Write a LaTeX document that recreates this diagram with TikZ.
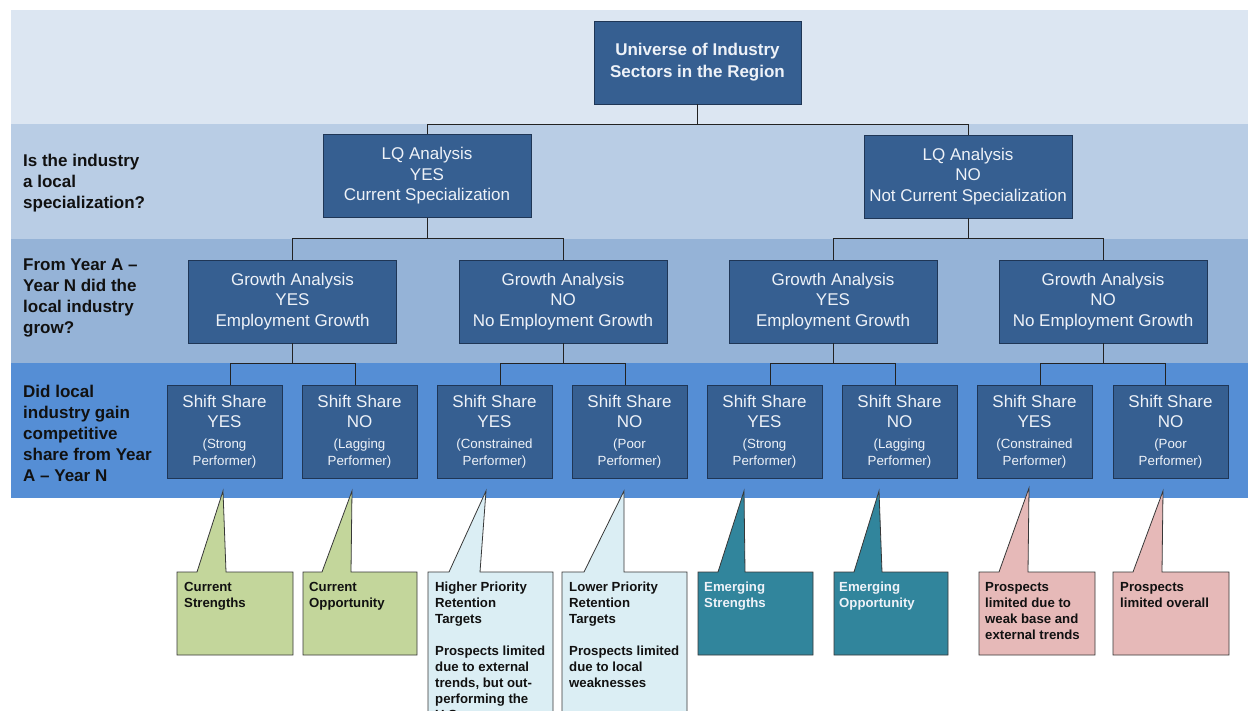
\documentclass[tikz,border=0pt]{standalone}
\usepackage{fontspec}
\setmainfont{Liberation Sans}
\definecolor{bandA}{HTML}{DCE6F2}
\definecolor{bandB}{HTML}{B9CDE5}
\definecolor{bandC}{HTML}{95B3D7}
\definecolor{bandD}{HTML}{558ED5}
\definecolor{boxfill}{HTML}{365F91}
\definecolor{boxline}{HTML}{1F3656}
\definecolor{boxtext}{HTML}{EEF2F8}
\definecolor{conncol}{HTML}{222222}
\definecolor{cgreen}{HTML}{C3D69B}
\definecolor{clblue}{HTML}{DBEEF4}
\definecolor{cteal}{HTML}{31859C}
\definecolor{cpink}{HTML}{E6B9B8}
\definecolor{qtext}{HTML}{111111}
\tikzset{
  box/.style={draw=boxline, fill=boxfill, text=boxtext, align=center, inner sep=0pt,
    line width=0.9pt, font=\fontsize{17}{20.5}\selectfont},
  topbox/.style={box, minimum width=207pt, minimum height=83pt, font=\bfseries\fontsize{17}{22}\selectfont},
  lqbox/.style={box, minimum width=208pt, minimum height=83pt},
  grbox/.style={box, minimum width=208pt, minimum height=83pt},
  ssbox/.style={box, minimum width=115pt, minimum height=93pt},
  conn/.style={draw=conncol, line width=0.9pt},
  qlabel/.style={anchor=west, align=left, inner sep=0pt, text=qtext, font=\bfseries\fontsize{17}{21}\selectfont},
  calloutline/.style={draw=conncol!90, line width=0.8pt},
  ctext/.style={anchor=north west, align=left, inner sep=0pt, font=\bfseries\fontsize{13.2}{16}\selectfont}
}
\newcommand\mycallout[8]{%
  \filldraw[calloutline, fill=#1] (#2,572) -- (#4,572) -- (#6,#7) -- (#5,572) -- (#3,572) -- (#3,#8) -- (#2,#8) -- cycle;}
\newcommand\sm[1]{{\fontsize{13.3}{16}\selectfont #1}}
\begin{document}
\begin{tikzpicture}[x=1pt,y=-1pt]
\useasboundingbox (0,0) rectangle (1248,711);
\clip (0,0) rectangle (1248,711);
\fill[white] (0,0) rectangle (1248,711);
% bands
\fill[bandA] (11,10) rectangle (1248,124);
\fill[bandB] (11,124) rectangle (1248,239);
\fill[bandC] (11,239) rectangle (1248,363);
\fill[bandD] (11,363) rectangle (1248,498);

% question labels
\node[qlabel] (q1) at (23,183) {Is the industry\\a local\\specialization?};
\node[qlabel] (q2) at (23,297.5) {From Year A --\\Year N did the\\local industry\\grow?};
\node[qlabel] (q3) at (23,433) {Did local\\industry gain\\competitive\\share from Year\\A -- Year N};

% tree nodes
\node[topbox] (u) at (697.5,62.5) {Universe of Industry\\Sectors in the Region};
\node[lqbox] (lqy) at (427,176) {LQ Analysis\\YES\\Current Specialization};
\node[lqbox] (lqn) at (968,176.5) {LQ Analysis\\NO\\Not Current Specialization};

\node[grbox] (g1) at (292.5,301.5) {Growth Analysis\\YES\\Employment Growth};
\node[grbox] (g2) at (563,301.5) {Growth Analysis\\NO\\No Employment Growth};
\node[grbox] (g3) at (833,301.5) {Growth Analysis\\YES\\Employment Growth};
\node[grbox] (g4) at (1103,301.5) {Growth Analysis\\NO\\No Employment Growth};

\node[ssbox] (s1) at (224.5,431.5) {Shift Share\\YES\\\sm{(Strong}\\[-3.5pt]\sm{Performer)}};
\node[ssbox] (s2) at (359.5,431.5) {Shift Share\\NO\\\sm{(Lagging}\\[-3.5pt]\sm{Performer)}};
\node[ssbox] (s3) at (494.5,431.5) {Shift Share\\YES\\\sm{(Constrained}\\[-3.5pt]\sm{Performer)}};
\node[ssbox] (s4) at (629.5,431.5) {Shift Share\\NO\\\sm{(Poor}\\[-3.5pt]\sm{Performer)}};
\node[ssbox] (s5) at (764.5,431.5) {Shift Share\\YES\\\sm{(Strong}\\[-3.5pt]\sm{Performer)}};
\node[ssbox] (s6) at (899.5,431.5) {Shift Share\\NO\\\sm{(Lagging}\\[-3.5pt]\sm{Performer)}};
\node[ssbox] (s7) at (1034.5,431.5) {Shift Share\\YES\\\sm{(Constrained}\\[-3.5pt]\sm{Performer)}};
\node[ssbox] (s8) at (1170.5,431.5) {Shift Share\\NO\\\sm{(Poor}\\[-3.5pt]\sm{Performer)}};

% connectors
\draw[conn] (u.south) -- ++(0,20) coordinate (j0);
\draw[conn] (j0) -| (lqy.north);
\draw[conn] (j0) -| (lqn.north);

\draw[conn] (lqy.south) -- ++(0,21) coordinate (j1);
\draw[conn] (j1) -| (g1.north);
\draw[conn] (j1) -| (g2.north);
\draw[conn] (lqn.south) -- ++(0,20.5) coordinate (j2);
\draw[conn] (j2) -| (g3.north);
\draw[conn] (j2) -| (g4.north);

\draw[conn] (g1.south) -- ++(0,20) coordinate (k1);
\draw[conn] (k1) -| ([xshift=5.5pt]s1.north);
\draw[conn] (k1) -| ([xshift=-4.5pt]s2.north);
\draw[conn] (g2.south) -- ++(0,20) coordinate (k2);
\draw[conn] (k2) -| ([xshift=5.5pt]s3.north);
\draw[conn] (k2) -| ([xshift=-4.5pt]s4.north);
\draw[conn] (g3.south) -- ++(0,20) coordinate (k3);
\draw[conn] (k3) -| ([xshift=5.5pt]s5.north);
\draw[conn] (k3) -| ([xshift=-4.5pt]s6.north);
\draw[conn] (g4.south) -- ++(0,20) coordinate (k4);
\draw[conn] (k4) -| ([xshift=5.5pt]s7.north);
\draw[conn] (k4) -| ([xshift=-5.5pt]s8.north);

% callouts
\mycallout{cgreen}{177}{293}{197}{226}{223}{491}{655}
\mycallout{cgreen}{303}{417}{322}{351}{352}{491}{655}
\mycallout{clblue}{428}{553}{449}{480}{486}{491}{730}
\mycallout{clblue}{562}{687}{584}{624}{624}{491}{730}
\mycallout{cteal}{698}{813}{718}{745}{744}{491}{655}
\mycallout{cteal}{834}{948}{854}{882}{879}{491}{655}
\mycallout{cpink}{979}{1095}{999}{1028}{1029}{488}{655}
\mycallout{cpink}{1113}{1229}{1133}{1162}{1163}{491}{655}

\node[ctext, text=qtext] (c1) at (184,582) {Current\\Strengths};
\node[ctext, text=qtext] (c2) at (309,582) {Current\\Opportunity};
\node[ctext, text=qtext] (c3) at (435,582) {Higher Priority\\Retention\\Targets\\[16pt]Prospects limited\\due to external\\trends, but out-\\performing the\\U.S.};
\node[ctext, text=qtext] (c4) at (569,582) {Lower Priority\\Retention\\Targets\\[16pt]Prospects limited\\due to local\\weaknesses};
\node[ctext, text=boxtext] (c5) at (704,582) {Emerging\\Strengths};
\node[ctext, text=boxtext] (c6) at (839,582) {Emerging\\Opportunity};
\node[ctext, text=qtext] (c7) at (985,582) {Prospects\\limited due to\\weak base and\\external trends};
\node[ctext, text=qtext] (c8) at (1120,582) {Prospects\\limited overall};
\end{tikzpicture}
\end{document}
